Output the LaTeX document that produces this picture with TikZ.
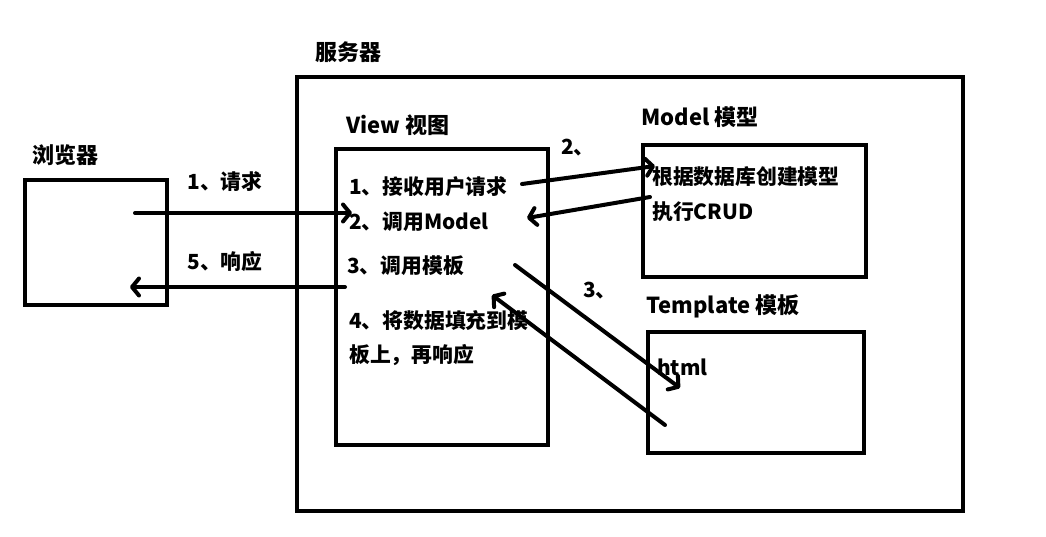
\documentclass[tikz,border=0pt]{standalone}
\usepackage{fontspec}
\setmainfont{Noto Sans CJK SC}
\usetikzlibrary{arrows.meta}
\begin{document}
\begin{tikzpicture}[x=1pt,y=-1pt,
  box/.style={draw,line width=4pt,inner sep=0pt},
  lbl/.style={font=\bfseries\fontsize{20.8}{25}\selectfont,inner sep=0pt},
  ttl/.style={font=\bfseries\fontsize{22}{26}\selectfont,inner sep=0pt},
  conn/.style={line width=4pt,line cap=round,-{Straight Barb[length=7pt,width=17pt,round]}}]
\useasboundingbox[fill=white] (0,0) rectangle (1046,536);
% boxes
\node[box,minimum width=142pt,minimum height=125pt] (browser) at (96,242.5) {};
\node[box,minimum width=666pt,minimum height=434pt] (server) at (630,294) {};
\node[box,minimum width=212pt,minimum height=296pt] (view) at (442,297) {};
\node[box,minimum width=223pt,minimum height=132pt] (model) at (754.5,211) {};
\node[box,minimum width=216pt,minimum height=121pt] (template) at (756,392.5) {};
% titles
\node[ttl] (tbrowser) at (65,155) {浏览器};
\node[ttl] (tserver) at (348,52) {服务器};
\node[ttl] (tview) at (398,125) {View 视图};
\node[ttl] (tmodel) at (700,117) {Model 模型};
\node[ttl] (ttemplate) at (723,306) {Template 模板};
% texts
\node[lbl,anchor=west] (v1) at (349,187) {1、接收用户请求};
\node[lbl,anchor=west] (v2) at (349,222) {2、调用Model};
\node[lbl,anchor=west] (v3) at (347,266) {3、调用模板};
\node[lbl,anchor=west] (v4) at (349,321) {4、将数据填充到模};
\node[lbl,anchor=west] (v5) at (349,355) {板上，再响应};
\node[lbl,anchor=west] (m1) at (652,177) {根据数据库创建模型};
\node[lbl,anchor=west] (m2) at (652,212) {执行CRUD};
\node[lbl,anchor=west] (h1) at (657,367) {html};
% arrow labels
\node[lbl] (lreq) at (225,182) {1、请求};
\node[lbl] (lres) at (225,262) {5、响应};
\node[lbl] (l2) at (578,148) {2、};
\node[lbl] (l3) at (600,291) {3、};
% connector end points
\coordinate (reqS) at (135,213);
\coordinate (reqE) at (352,213);
\coordinate (resS) at (345,287);
\coordinate (resE) at (130,287);
\coordinate (mAS) at (522,184);
\coordinate (mAE) at (655,166);
\coordinate (mBS) at (650,197);
\coordinate (mBE) at (527,218);
\coordinate (tAS) at (515,265);
\coordinate (tAE) at (680,388);
\coordinate (tBS) at (665,425);
\coordinate (tBE) at (492,295);
% connectors
\draw[conn] (reqS) -- (reqE);
\draw[conn] (resS) -- (resE);
\draw[conn] (mAS) -- (mAE);
\draw[conn] (mBS) -- (mBE);
\draw[conn] (tAS) -- (tAE);
\draw[conn] (tBS) -- (tBE);
\end{tikzpicture}
\end{document}
